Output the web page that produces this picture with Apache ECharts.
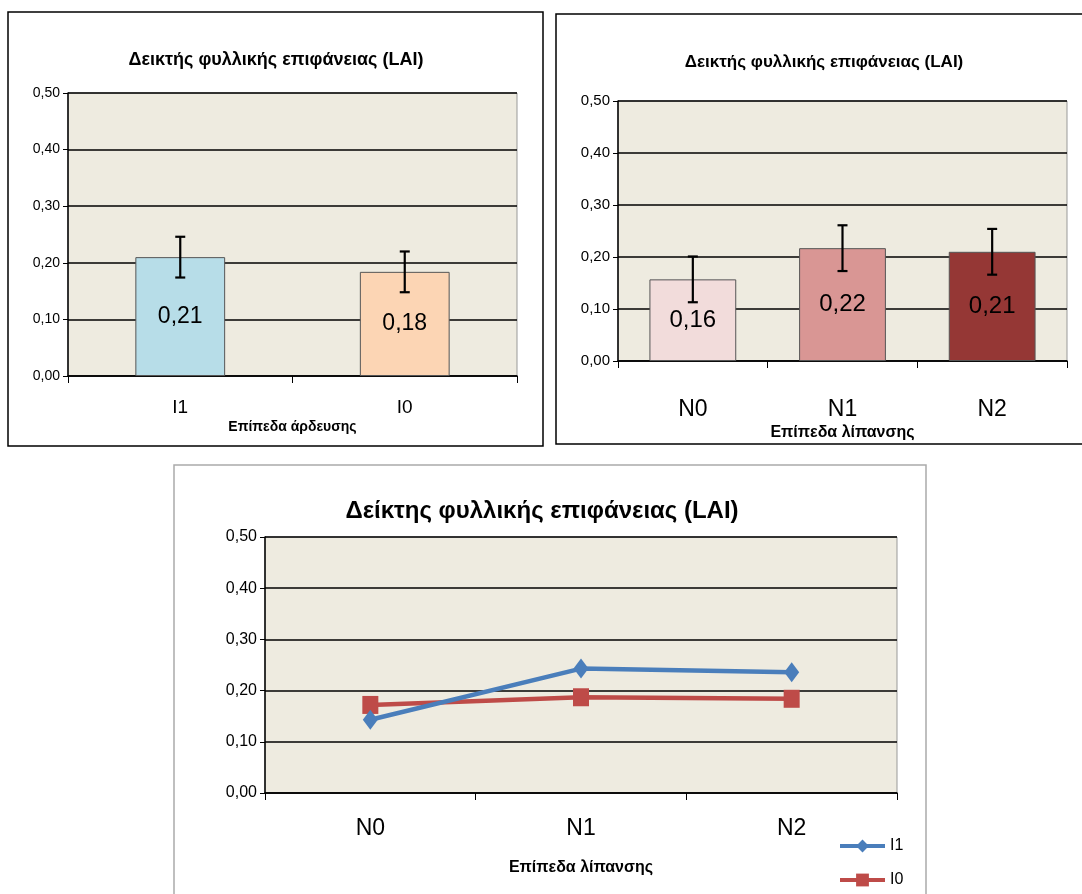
<!DOCTYPE html>
<html><head><meta charset="utf-8">
<script src="https://cdn.jsdelivr.net/npm/echarts@6/dist/echarts.min.js"></script>
<style>html,body{margin:0;padding:0;background:#fff}#c{width:1082px;height:894px}</style>
</head><body><div id="c"></div>
<script>
// ---- data ----
const irrCategories = ['I1', 'I0'];
const irrValues = [0.210, 0.184];
const irrErrors = [0.036, 0.036];
const irrColors = ['#B7DDE8', '#FCD5B4'];

const fertCategories = ['N0', 'N1', 'N2'];
const fertValues = [0.157, 0.217, 0.210];
const fertErrors = [0.044, 0.044, 0.044];
const fertColors = ['#F2DCDB', '#D99694', '#953735'];

const lineCategories = ['N0', 'N1', 'N2'];
const lineI1 = [0.143, 0.243, 0.236];
const lineI0 = [0.172, 0.187, 0.184];

const yTicks = [0, 0.1, 0.2, 0.3, 0.4, 0.5];
const titleTop = 'Δεικτής φυλλικής επιφάνειας (LAI)';
const titleBottom = 'Δείκτης φυλλικής επιφάνειας (LAI)';
const nameIrr = 'Επίπεδα άρδευσης';
const nameFert = 'Επίπεδα λίπανσης';

const NARROW = '"Liberation Sans Narrow", "Arial Narrow", "Liberation Sans", Arial, sans-serif';
const SANS = '"Liberation Sans", Arial, sans-serif';
const fmt = v => v.toFixed(2).replace('.', ',');
const PLOT_BG = '#EEEBE0';

function yAxis(gi, fs) {
  return {
    gridIndex: gi, type: 'value', min: yTicks[0], max: yTicks[yTicks.length - 1], interval: 0.1,
    axisLine: {show: true, lineStyle: {color: '#000', width: 1.5}},
    axisTick: {show: true, inside: false, length: 5, lineStyle: {color: '#000'}},
    axisLabel: {formatter: fmt, color: '#000', fontFamily: NARROW, fontSize: fs, margin: 8},
    splitLine: {show: true, lineStyle: {color: '#000', width: 1.5}}
  };
}
function xAxis(gi, cats, fs, name, nameGap, nameFs, margin) {
  return {
    gridIndex: gi, type: 'category', data: cats, boundaryGap: true,
    axisLine: {show: true, lineStyle: {color: '#000', width: 1.5}},
    axisTick: {show: true, length: 7, alignWithLabel: false, lineStyle: {color: '#000'}},
    axisLabel: {color: '#000', fontFamily: NARROW, fontSize: fs, margin: margin},
    name: name, nameLocation: 'middle', nameGap: nameGap,
    nameTextStyle: {color: '#000', fontFamily: NARROW, fontWeight: 'bold', fontSize: nameFs}
  };
}
function errSeries(xi, yi, vals, errs) {
  return {
    type: 'custom', xAxisIndex: xi, yAxisIndex: yi, z: 10,
    data: vals.map((v, i) => [i, v - errs[i], v + errs[i]]),
    renderItem: function (params, api) {
      const lo = api.coord([api.value(0), api.value(1)]);
      const hi = api.coord([api.value(0), api.value(2)]);
      const w = 5;
      const st = {stroke: '#000', lineWidth: 2.2};
      return {type: 'group', children: [
        {type: 'line', shape: {x1: lo[0], y1: lo[1], x2: hi[0], y2: hi[1]}, style: st},
        {type: 'line', shape: {x1: lo[0] - w, y1: lo[1], x2: lo[0] + w, y2: lo[1]}, style: st},
        {type: 'line', shape: {x1: hi[0] - w, y1: hi[1], x2: hi[0] + w, y2: hi[1]}, style: st}
      ]};
    }
  };
}
function barSeries(xi, yi, vals, colors, bw, fs) {
  return {
    type: 'bar', xAxisIndex: xi, yAxisIndex: yi, barWidth: bw,
    data: vals.map((v, i) => ({value: v, itemStyle: {color: colors[i], borderColor: '#555', borderWidth: 1}})),
    label: {show: true, position: 'inside', formatter: p => fmt(p.value), color: '#000', fontFamily: NARROW, fontSize: fs}
  };
}

const chart = echarts.init(document.getElementById('c'), null, {renderer: 'canvas'});
chart.setOption({
  animation: false,
  backgroundColor: '#fff',
  graphic: [
    {type: 'rect', shape: {x: 8, y: 12, width: 535, height: 434}, style: {fill: 'none', stroke: '#000', lineWidth: 1.5}, z: 100},
    {type: 'rect', shape: {x: 556, y: 14, width: 540, height: 430}, style: {fill: 'none', stroke: '#000', lineWidth: 1.5}, z: 100},
    {type: 'rect', shape: {x: 174, y: 465, width: 752, height: 440}, style: {fill: 'none', stroke: '#aaa', lineWidth: 1.5}, z: 100}
  ],
  title: [
    {text: titleTop, left: 271, top: 46, textAlign: 'center', textStyle: {fontFamily: SANS, fontWeight: 'bold', fontSize: 18, color: '#000'}},
    {text: titleTop, left: 819, top: 49, textAlign: 'center', textStyle: {fontFamily: NARROW, fontWeight: 'bold', fontSize: 17, color: '#000'}},
    {text: titleBottom, left: 537, top: 494, textAlign: 'center', textStyle: {fontFamily: SANS, fontWeight: 'bold', fontSize: 24, color: '#000'}}
  ],
  legend: {
    orient: 'vertical', left: 838, top: 838, padding: 0, itemGap: 18, itemWidth: 45, itemHeight: 16,
    height: 60,
    lineStyle: {width: 4},
    textStyle: {fontFamily: NARROW, fontSize: 16, color: '#000'},
    data: ['I1', 'I0']
  },
  grid: [
    {left: 68, top: 93, width: 449, height: 283, show: true, backgroundColor: PLOT_BG, borderColor: '#999', borderWidth: 1},
    {left: 618, top: 101, width: 449, height: 260, show: true, backgroundColor: PLOT_BG, borderColor: '#999', borderWidth: 1},
    {left: 265, top: 537, width: 632, height: 256, show: true, backgroundColor: PLOT_BG, borderColor: '#999', borderWidth: 1}
  ],
  xAxis: [
    xAxis(0, irrCategories, 19, nameIrr, 44, 14, 22),
    xAxis(1, fertCategories, 23, nameFert, 64, 16, 37),
    xAxis(2, lineCategories, 23, nameFert, 67, 16, 24)
  ],
  yAxis: [yAxis(0, 14), yAxis(1, 15), yAxis(2, 16)],
  series: [
    barSeries(0, 0, irrValues, irrColors, '40%', 23),
    errSeries(0, 0, irrValues, irrErrors),
    barSeries(1, 1, fertValues, fertColors, '58%', 24),
    errSeries(1, 1, fertValues, fertErrors),
    {name: 'I1', type: 'line', xAxisIndex: 2, yAxisIndex: 2, data: lineI1, symbol: 'diamond', symbolSize: [15, 20],
      lineStyle: {color: '#4A7EBB', width: 4.5}, itemStyle: {color: '#4A7EBB'}, z: 5},
    {name: 'I0', type: 'line', xAxisIndex: 2, yAxisIndex: 2, data: lineI0, symbol: 'rect', symbolSize: [16, 18],
      lineStyle: {color: '#BE4B48', width: 4.5}, itemStyle: {color: '#BE4B48'}, z: 4}
  ]
});
</script></body></html>
